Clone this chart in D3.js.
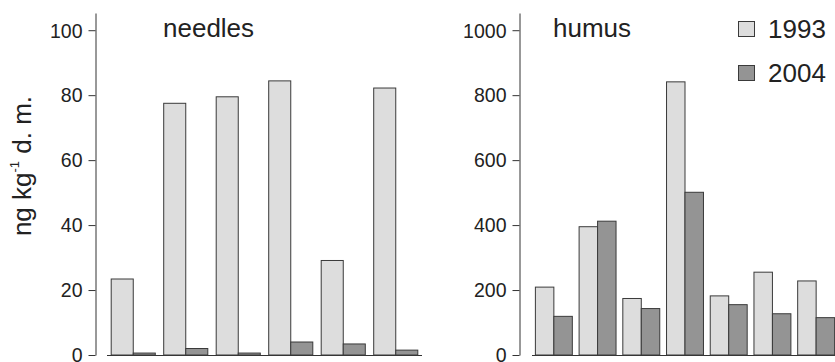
<!DOCTYPE html>
<html>
<head>
    <script src="https://cdn.jsdelivr.net/npm/d3@7"></script>
    <style>
        body { margin: 0; background: #fff; }
        svg { display: block; font-family: "Liberation Sans", Arial, sans-serif; }
        .axis text { fill: #222; font-size: 19.5px; }
        .axis path, .axis line { stroke: #333; }
    </style>
</head>
<body>
<div id="chart"></div>
<script>
    // values
    const years = ["1993", "2004"];
    const needleSites = ["1", "2", "3", "4", "5", "6"];
    const needles1993 = [23.4, 77.5, 79.5, 84.4, 29.1, 82.2];
    const needles2004 = [0.6, 2.0, 0.6, 4.0, 3.4, 1.5];
    const humusSites = ["1", "2", "3", "4", "5", "6", "7"];
    const humus1993 = [209, 395, 174, 841, 182, 255, 228];
    const humus2004 = [119, 412, 143, 501, 155, 127, 115];
    const needleTicks = [0, 20, 40, 60, 80, 100];
    const humusTicks = [0, 200, 400, 600, 800, 1000];

    const colors = { "1993": "#dddddd", "2004": "#949494" };

    const svg = d3.select("#chart").append("svg")
        .attr("width", 835)
        .attr("height", 362);

    // draws one panel: axis, baseline, grouped bars, title
    function panel(opts) {
        const g = svg.append("g");
        const y = d3.scaleLinear()
            .domain([0, opts.top])
            .range([355, 13]);
        const x = d3.scaleBand()
            .domain(opts.sites)
            .range(opts.xRange)
            .paddingInner(opts.pad)
            .paddingOuter(opts.pad / 2);
        const x1 = d3.scaleBand()
            .domain(years)
            .range([0, x.bandwidth()]);

        g.append("g")
            .attr("class", "axis")
            .attr("transform", `translate(${opts.axisX},0)`)
            .call(d3.axisLeft(y).tickValues(opts.ticks).tickFormat(d3.format("d"))
                .tickSize(7).tickSizeOuter(0).tickPadding(6))
            .call(a => a.selectAll("text").attr("dy", "0.35em"));

        g.append("line")
            .attr("x1", opts.xRange[0]).attr("x2", opts.baseEnd)
            .attr("y1", y(0) + 0.5).attr("y2", y(0) + 0.5)
            .attr("stroke", "#333");

        const rows = opts.sites.map((s, i) => ({ site: s, "1993": opts.a[i], "2004": opts.b[i] }));
        g.selectAll(".grp")
            .data(rows)
            .join("g")
            .attr("transform", d => `translate(${x(d.site)},0)`)
            .selectAll("rect")
            .data(d => years.map(k => ({ key: k, value: d[k] })))
            .join("rect")
            .attr("x", d => x1(d.key))
            .attr("y", d => y(d.value))
            .attr("width", x1.bandwidth())
            .attr("height", d => y(0) - y(d.value))
            .attr("fill", d => colors[d.key])
            .attr("stroke", "#3a3a3a")
            .attr("stroke-width", 1);

        g.append("text")
            .attr("x", opts.titleX)
            .attr("y", 37)
            .attr("font-size", 26)
            .attr("fill", "#222")
            .text(opts.title);
    }

    panel({
        sites: needleSites, a: needles1993, b: needles2004,
        top: 105.3, ticks: needleTicks, axisX: 95.5,
        xRange: [107, 422], baseEnd: 422, pad: 0.16,
        title: "needles", titleX: 163
    });

    panel({
        sites: humusSites, a: humus1993, b: humus2004,
        top: 1053, ticks: humusTicks, axisX: 519.5,
        xRange: [532, 838], baseEnd: 835, pad: 0.155,
        title: "humus", titleX: 553
    });

    // y label with superscript
    const lab = svg.append("text")
        .attr("transform", "translate(31,166) rotate(-90)")
        .attr("text-anchor", "middle")
        .attr("font-size", 26)
        .attr("fill", "#222");
    lab.append("tspan").text("ng kg");
    lab.append("tspan").attr("font-size", 13).attr("dy", -12).text("-1");
    lab.append("tspan").attr("dy", 12).text(" d. m.");

    // legend
    const leg = svg.append("g").attr("transform", "translate(738,21)");
    years.forEach((k, i) => {
        const row = leg.append("g").attr("transform", `translate(0,${i * 44})`);
        row.append("rect")
            .attr("x", 0.5).attr("y", 0.5)
            .attr("width", 16).attr("height", 15)
            .attr("fill", colors[k])
            .attr("stroke", "#3a3a3a");
        row.append("text")
            .attr("x", 30).attr("y", 17)
            .attr("font-size", 26)
            .attr("fill", "#222")
            .text(k);
    });
</script>
</body>
</html>
